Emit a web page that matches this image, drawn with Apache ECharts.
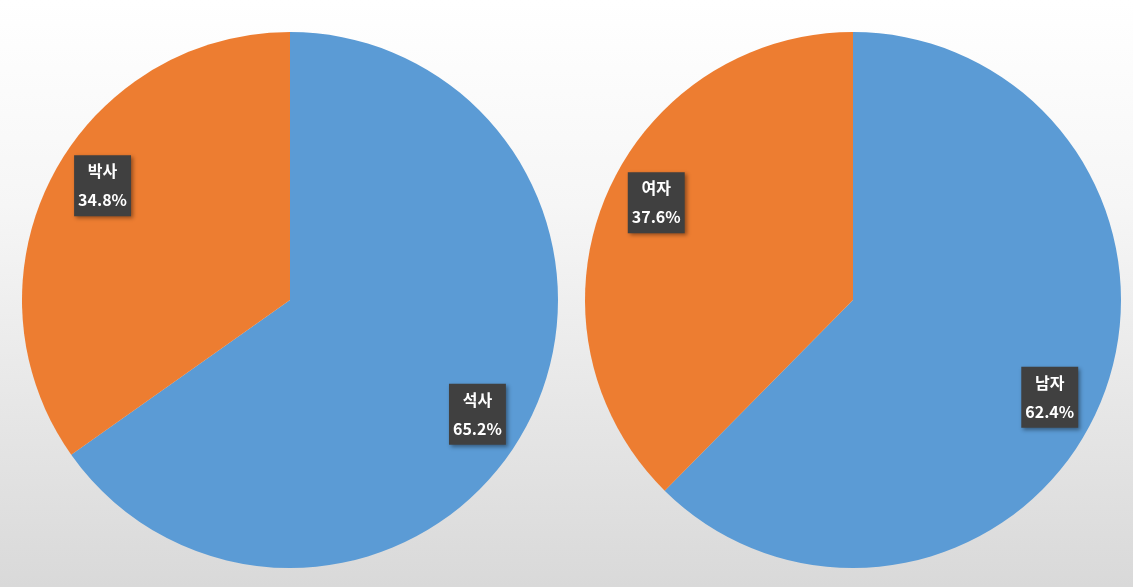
<!DOCTYPE html>
<html>
<head>
<meta charset="utf-8">
<script src="https://cdn.jsdelivr.net/npm/echarts@6/dist/echarts.min.js"></script>
<style>
  html, body { margin: 0; padding: 0; }
  #chart { width: 1133px; height: 587px; }
</style>
</head>
<body>
<div id="chart"></div>
<script>
// Degree split and gender split (percent)
const degreeNames = ['석사', '박사'];
const degreeValues = [65.2, 34.8];
const genderNames = ['남자', '여자'];
const genderValues = [62.4, 37.6];
const sliceColors = ['#5B9BD5', '#ED7D31'];

function toData(names, values) {
  return names.map((n, i) => ({ name: n, value: values[i], itemStyle: { color: sliceColors[i] } }));
}

const labelStyle = {
  show: true,
  position: 'inside',
  formatter: p => p.name + '\n' + p.value.toFixed(1) + '%',
  color: '#ffffff',
  fontFamily: '"Noto Sans CJK KR", "Noto Sans", sans-serif',
  fontWeight: 'bold',
  fontSize: 16,
  lineHeight: 29,
  backgroundColor: '#404040',
  padding: [2, 4, 1, 4],
  shadowColor: 'rgba(0,0,0,0.4)',
  shadowBlur: 4,
  shadowOffsetX: 2,
  shadowOffsetY: 2
};

function pieSeries(center, names, values) {
  return [
    {
      type: 'pie',
      center: center,
      radius: [0, 268],
      startAngle: 90,
      clockwise: true,
      silent: true,
      label: { show: false },
      labelLine: { show: false },
      itemStyle: { borderWidth: 0 },
      data: toData(names, values)
    },
    {
      // transparent ring carrying the data labels, turned a little clockwise
      type: 'pie',
      center: center,
      radius: [165, 268],
      startAngle: 86,
      clockwise: true,
      silent: true,
      itemStyle: { color: 'rgba(0,0,0,0)', borderWidth: 0 },
      label: labelStyle,
      labelLine: { show: false },
      data: names.map((n, i) => ({ name: n, value: values[i] }))
    }
  ];
}

const chart = echarts.init(document.getElementById('chart'), null, { renderer: 'canvas' });
chart.setOption({
  animation: false,
  backgroundColor: {
    type: 'linear', x: 0, y: 0, x2: 0, y2: 1,
    colorStops: [
      { offset: 0, color: '#ffffff' },
      { offset: 0.35, color: '#f6f6f6' },
      { offset: 1, color: '#d9d9d9' }
    ]
  },
  series: [
    ...pieSeries([290, 300], degreeNames, degreeValues),
    ...pieSeries([853, 300], genderNames, genderValues)
  ]
});
</script>
</body>
</html>
